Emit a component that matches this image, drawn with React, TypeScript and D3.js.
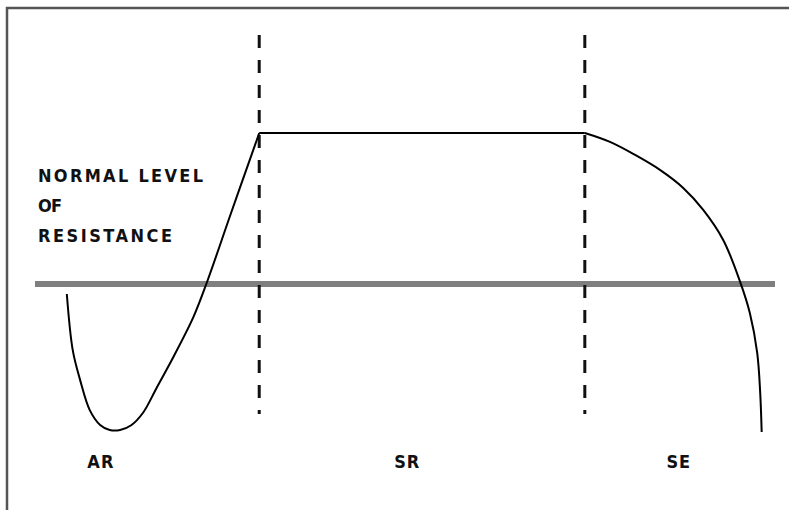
import React from "react";
import * as d3 from "d3";

// Resistance curve (x: time units 0-100, y: resistance units, 0 = lowest, 100 = plateau)
const curveX = [4.3, 5.1, 6.1, 7.4, 8.8, 10.1, 11.5, 13.0, 14.6, 16.5, 18.7, 21.4, 23.2, 26.4, 29.5, 30.3, 74.3, 77.7, 81.1, 84.5, 87.6, 90.3, 93.0, 95.3, 96.6, 97.6, 98.0, 98.2];
const curveY = [45.8, 26.9, 16.8, 6.7, 1.7, 0, 0, 1.6, 5.8, 14.5, 24.6, 38.0, 49.5, 72.4, 94.3, 100, 100, 97.0, 92.6, 87.5, 81.5, 74.1, 64.0, 49.8, 39.4, 25.9, 12.5, -0.7];

const normalLevel = 49.2;
const phaseBoundaries = [30.3, 74.3];
const phaseLabels = ["AR", "SR", "SE"];
const phaseCenters = [8.9, 50.3, 87.0];
const levelLabel = ["NORMAL LEVEL", "OF", "RESISTANCE"];
const levelLabelWidths = [165, 24, 134];

export default function App() {
  const W = 789;
  const H = 510;
  const x = d3.scaleLinear().domain([0, 100]).range([35, 775]);
  const y = d3.scaleLinear().domain([0, 100]).range([430, 133]);

  const pts = curveX.map((v, i) => [v, curveY[i]] as [number, number]);
  const plateauStart = 15;
  const plateauEnd = 16;
  const smooth = d3
    .line<[number, number]>()
    .x((d) => x(d[0]))
    .y((d) => y(d[1]))
    .curve(d3.curveCatmullRom.alpha(0.5));
  const straight = d3
    .line<[number, number]>()
    .x((d) => x(d[0]))
    .y((d) => y(d[1]));

  const segments = [
    smooth(pts.slice(0, plateauStart + 1)) || "",
    straight(pts.slice(plateauStart, plateauEnd + 1)) || "",
    smooth(pts.slice(plateauEnd)) || "",
  ];

  const font = "'DejaVu Sans Condensed', 'DejaVu Sans', 'Liberation Sans Narrow', sans-serif";

  return (
    <svg
      width={W}
      height={H}
      style={{ position: "absolute", left: 0, top: 0, background: "#fff" }}
    >
      {/* frame */}
      <line x1={6} x2={W} y1={8} y2={8} stroke="#555" strokeWidth={2.5} />
      <line x1={7} x2={7} y1={7} y2={H} stroke="#555" strokeWidth={2.5} />

      {/* normal level */}
      <line
        x1={x(0)}
        x2={x(100)}
        y1={y(normalLevel)}
        y2={y(normalLevel)}
        stroke="#7f7f7f"
        strokeWidth={6}
      />

      {/* phase boundaries */}
      {phaseBoundaries.map((b, i) => (
        <line
          key={i}
          x1={x(b)}
          x2={x(b)}
          y1={35}
          y2={414}
          stroke="#111"
          strokeWidth={3}
          strokeDasharray="13 12"
        />
      ))}

      {/* resistance curve */}
      {segments.map((d, i) => (
        <path key={i} d={d} fill="none" stroke="#000" strokeWidth={2} strokeLinejoin="round" />
      ))}

      {/* level label */}
      {levelLabel.map((t, i) => (
        <text
          key={i}
          x={38}
          y={182 + i * 30}
          fontFamily={font}
          fontWeight="bold"
          fontSize={18}
          style={{ fontStretch: "condensed" }}
          textLength={levelLabelWidths[i]}
          lengthAdjust="spacing"
          fill="#111"
        >
          {t}
        </text>
      ))}

      {/* phase labels */}
      {phaseLabels.map((t, i) => (
        <text
          key={t}
          x={x(phaseCenters[i])}
          y={468}
          textAnchor="middle"
          fontFamily={font}
          fontWeight="bold"
          fontSize={18}
          style={{ fontStretch: "condensed" }}
          letterSpacing={1}
          fill="#111"
        >
          {t}
        </text>
      ))}
    </svg>
  );
}
